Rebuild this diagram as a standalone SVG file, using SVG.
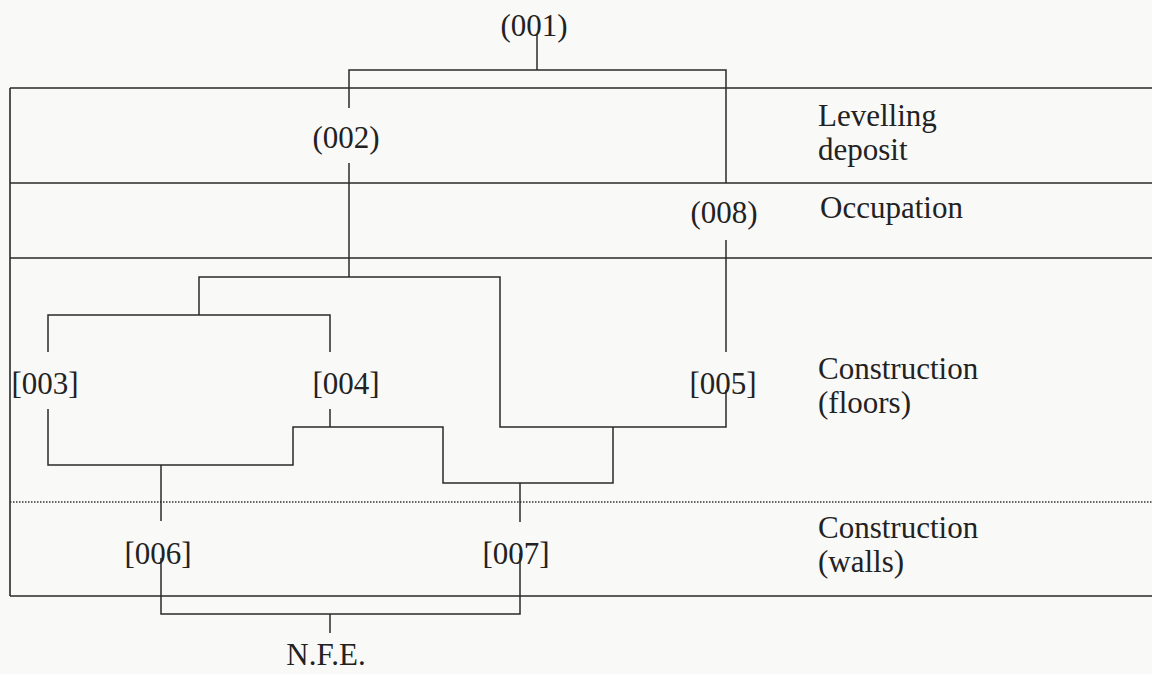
<svg xmlns="http://www.w3.org/2000/svg" width="1152" height="674" viewBox="0 0 1152 674">
<style>
.bg{fill:#f9f9f8}
.lbl{font-family:"Liberation Serif","Times New Roman",serif;font-size:31px;fill:#222;text-anchor:middle}
.cap{font-family:"Liberation Serif","Times New Roman",serif;font-size:31px;fill:#222}
.rule{stroke:#2a2a2a;stroke-width:1.6;fill:none}
.dot{stroke:#333;stroke-width:1.3;stroke-dasharray:1.5 1.5;fill:none}
.conn{stroke:#2a2a2a;stroke-width:1.5;fill:none}
</style>
<rect class="bg" x="0" y="0" width="1152" height="674"/>
<g id="table">
<path class="rule" d="M10,88 H1152 M10,183 H1152 M10,258 H1152 M10,596 H1152 M10,88 V596"/>
<path class="dot" d="M10,502 H1152"/>
<text class="cap" x="818" y="126">Levelling</text>
<text class="cap" x="818" y="160">deposit</text>
<text class="cap" x="820" y="218">Occupation</text>
<text class="cap" x="818" y="379">Construction</text>
<text class="cap" x="818" y="413">(floors)</text>
<text class="cap" x="818" y="538">Construction</text>
<text class="cap" x="818" y="572">(walls)</text>
</g>
<g id="connectors">
<path class="conn" d="M537,34 V70"/>
<path class="conn" d="M349,108 V70 H726 V183"/>
<path class="conn" d="M349,163 V277"/>
<path class="conn" d="M199,315 V277 H500 V427 H726 V390"/>
<path class="conn" d="M48,352 V315 H330 V352"/>
<path class="conn" d="M726,240 V352"/>
<path class="conn" d="M48,409 V465 H293 V427 H443 V483 H613 V427"/>
<path class="conn" d="M330,409 V427"/>
<path class="conn" d="M161,465 V521"/>
<path class="conn" d="M520,483 V522"/>
<path class="conn" d="M161,558 V614 H520 V553"/>
<path class="conn" d="M330,614 V633"/>
</g>
<g id="n001"><text class="lbl" x="534" y="36">(001)</text></g>
<g id="n002"><text class="lbl" x="346" y="148">(002)</text></g>
<g id="n008"><text class="lbl" x="724" y="223">(008)</text></g>
<g id="n003"><text class="lbl" x="45" y="394">[003]</text></g>
<g id="n004"><text class="lbl" x="346" y="394">[004]</text></g>
<g id="n005"><text class="lbl" x="723" y="394">[005]</text></g>
<g id="n006"><text class="lbl" x="158" y="564">[006]</text></g>
<g id="n007"><text class="lbl" x="516" y="564">[007]</text></g>
<g id="nfe"><text class="lbl" x="326" y="665">N.F.E.</text></g>
</svg>
